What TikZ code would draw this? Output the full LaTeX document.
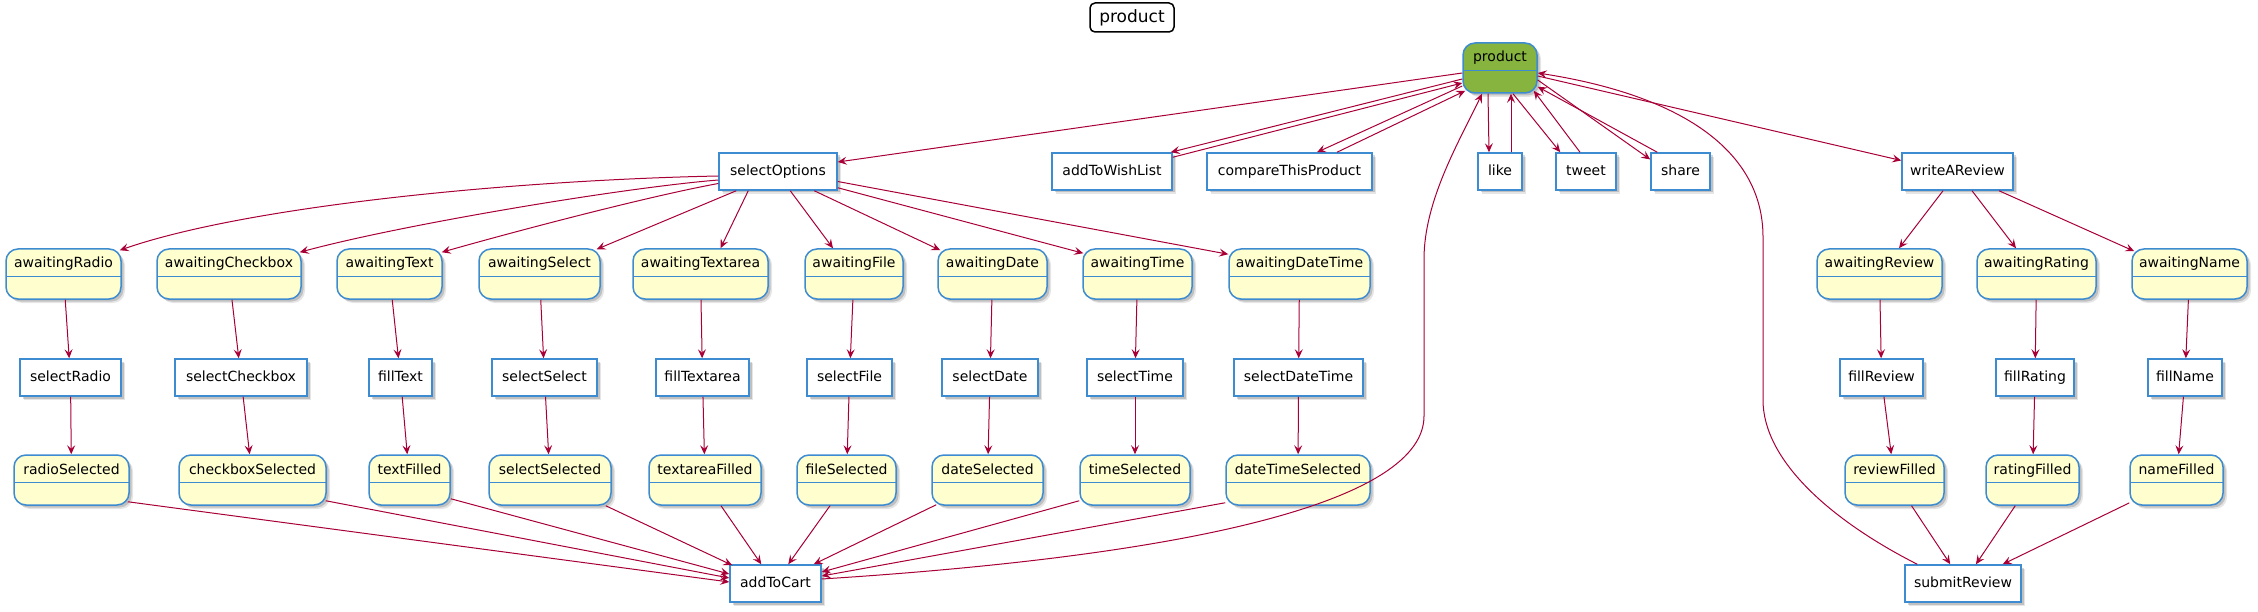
\documentclass[tikz,border=0pt]{standalone}
\usepackage{fontspec}
\setmainfont{DejaVu Sans}
\usetikzlibrary{arrows.meta,shadows,calc}
\definecolor{arrowred}{HTML}{A80036}
\definecolor{borderblue}{HTML}{3D8BD0}
\definecolor{stateyellow}{HTML}{FEFECE}
\definecolor{prodgreen}{HTML}{86B43E}
\newcommand{\nodefnt}{\fontsize{14pt}{16pt}\selectfont}
\newcommand{\titlefnt}{\fontsize{17pt}{19pt}\selectfont}
\tikzset{
  softshadow/.style={
    drop shadow={shadow xshift=2.5pt, shadow yshift=-2.5pt, fill=black, opacity=0.16},
    drop shadow={shadow xshift=4pt, shadow yshift=-4pt, fill=black, opacity=0.10}},
  arr/.style={draw=arrowred, line width=1pt, -{Stealth[length=9pt,width=8pt,inset=3.5pt]}},
  box/.style={draw=borderblue, line width=1.5pt, fill=white, minimum height=37pt,
    inner sep=0pt, text height=10.5pt, text depth=3pt, font=\nodefnt, softshadow},
  statebox/.style={draw=borderblue, line width=1.5pt, fill=stateyellow, rounded corners=12pt,
    minimum height=50pt, inner xsep=0pt, inner ysep=4pt, text height=15pt, text depth=27pt,
    font=\nodefnt, softshadow,
    path picture={\draw[borderblue, line width=1.5pt]
      ($(path picture bounding box.north west)+(0,27.5)$) --
      ($(path picture bounding box.north east)+(0,27.5)$);}},
  titlebox/.style={draw=black, line width=1.5pt, rounded corners=5pt, fill=white,
    inner sep=0pt, font=\titlefnt},
}
\begin{document}
\begin{tikzpicture}[x=1pt, y=-1pt]
\useasboundingbox (0,0) rectangle (2258,612);

% title
\node[titlebox, minimum width=84pt, minimum height=29pt] (title) at (1132,17.5) {product};

% root
\node[statebox, fill=prodgreen, minimum width=74pt] (product) at (1500,68) {product};

% first row of actions
\node[box, minimum width=118pt] (selectOptions) at (778,171.5) {selectOptions};
\node[box, minimum width=120pt] (addToWishList) at (1112,171.5) {addToWishList};
\node[box, minimum width=165pt] (compareThisProduct) at (1289.5,171.5) {compareThisProduct};
\node[box, minimum width=44pt] (like) at (1500,171.5) {like};
\node[box, minimum width=60pt] (tweet) at (1586,171.5) {tweet};
\node[box, minimum width=59pt] (share) at (1680.5,171.5) {share};
\node[box, minimum width=111pt] (writeAReview) at (1957.5,171.5) {writeAReview};

% awaiting states
\node[statebox, minimum width=115pt] (awaitingRadio) at (63.5,274) {awaitingRadio};
\node[statebox, minimum width=144pt] (awaitingCheckbox) at (229,274) {awaitingCheckbox};
\node[statebox, minimum width=105pt] (awaitingText) at (389.5,274) {awaitingText};
\node[statebox, minimum width=121pt] (awaitingSelect) at (539.5,274) {awaitingSelect};
\node[statebox, minimum width=135pt] (awaitingTextarea) at (700.5,274) {awaitingTextarea};
\node[statebox, minimum width=98pt] (awaitingFile) at (854,274) {awaitingFile};
\node[statebox, minimum width=109pt] (awaitingDate) at (992.5,274) {awaitingDate};
\node[statebox, minimum width=109pt] (awaitingTime) at (1137.5,274) {awaitingTime};
\node[statebox, minimum width=141pt] (awaitingDateTime) at (1299.5,274) {awaitingDateTime};
\node[statebox, minimum width=125pt] (awaitingReview) at (1879.5,274) {awaitingReview};
\node[statebox, minimum width=119pt] (awaitingRating) at (2036.5,274) {awaitingRating};
\node[statebox, minimum width=115pt] (awaitingName) at (2189.5,274) {awaitingName};

% input actions
\node[box, minimum width=101pt] (selectRadio) at (70.5,377.5) {selectRadio};
\node[box, minimum width=132pt] (selectCheckbox) at (241,377.5) {selectCheckbox};
\node[box, minimum width=63pt] (fillText) at (400.5,377.5) {fillText};
\node[box, minimum width=105pt] (selectSelect) at (544.5,377.5) {selectSelect};
\node[box, minimum width=93pt] (fillTextarea) at (702.5,377.5) {fillTextarea};
\node[box, minimum width=85pt] (selectFile) at (849.5,377.5) {selectFile};
\node[box, minimum width=96pt] (selectDate) at (990,377.5) {selectDate};
\node[box, minimum width=96pt] (selectTime) at (1135,377.5) {selectTime};
\node[box, minimum width=129pt] (selectDateTime) at (1298.5,377.5) {selectDateTime};
\node[box, minimum width=83pt] (fillReview) at (1881.5,377.5) {fillReview};
\node[box, minimum width=78pt] (fillRating) at (2035,377.5) {fillRating};
\node[box, minimum width=74pt] (fillName) at (2185,377.5) {fillName};

% done states
\node[statebox, minimum width=115pt] (radioSelected) at (71.5,480) {radioSelected};
\node[statebox, minimum width=147pt] (checkboxSelected) at (252.5,480) {checkboxSelected};
\node[statebox, minimum width=81pt] (textFilled) at (409.5,480) {textFilled};
\node[statebox, minimum width=122pt] (selectSelected) at (550,480) {selectSelected};
\node[statebox, minimum width=112pt] (textareaFilled) at (705,480) {textareaFilled};
\node[statebox, minimum width=99pt] (fileSelected) at (846.5,480) {fileSelected};
\node[statebox, minimum width=111pt] (dateSelected) at (987.5,480) {dateSelected};
\node[statebox, minimum width=110pt] (timeSelected) at (1135,480) {timeSelected};
\node[statebox, minimum width=144pt] (dateTimeSelected) at (1298,480) {dateTimeSelected};
\node[statebox, minimum width=99pt] (reviewFilled) at (1894.5,480) {reviewFilled};
\node[statebox, minimum width=93pt] (ratingFilled) at (2032.5,480) {ratingFilled};
\node[statebox, minimum width=93pt] (nameFilled) at (2176.5,480) {nameFilled};

% final actions
\node[box, minimum width=91pt] (addToCart) at (775.5,583.5) {addToCart};
\node[box, minimum width=116pt] (submitReview) at (1963,583.5) {submitReview};

% ---- edges from / to product
\draw[arr] ($(product.west)+(0,5)$) -- ($(selectOptions.east)+(0,-9.5)$);
\draw[arr] ($(product.west)+(0,11)$) -- ($(addToWishList.north east)+(-2,0)$);
\draw[arr] ($(addToWishList.north east)+(0,5)$) -- ($(product.west)+(0,15)$);
\draw[arr] ($(product.west)+(0,18)$) -- ($(compareThisProduct.north)+(27.5,0)$);
\draw[arr] ($(compareThisProduct.north)+(47.5,0)$) -- ($(product.south west)+(3,-3)$);
\draw[arr] ($(product.south)+(-12,0)$) -- ($(like.north)+(-11,0)$);
\draw[arr] ($(like.north)+(11,0)$) -- ($(product.south)+(11,0)$);
\draw[arr] ($(product.south)+(13,0)$) -- ($(tweet.north west)+(5,0)$);
\draw[arr] ($(tweet.north)+(-6,0)$) -- ($(product.south east)+(-4,-3)$);
\draw[arr] ($(product.east)+(0,12)$) -- ($(share.west)+(0,-12)$);
\draw[arr] ($(share.north west)+(7,0)$) -- ($(product.south east)+(0,-7)$);
\draw[arr] ($(product.east)+(0,8)$) -- ($(writeAReview.west)+(0,-11)$);

% ---- selectOptions to awaiting states
\draw[arr] ($(selectOptions.west)+(0,4.5)$) .. controls (520,180) and (250,205) .. ($(awaitingRadio.north east)+(-2,2)$);
\draw[arr] ($(selectOptions.west)+(0,8.5)$) .. controls (620,188) and (400,225) .. ($(awaitingCheckbox.north east)+(-2,4)$);
\draw[arr] ($(selectOptions.west)+(0,12)$) .. controls (650,196) and (520,230) .. ($(awaitingText.north east)+(-1,4)$);
\draw[arr] ($(selectOptions.south west)+(18,0)$) -- ($(awaitingSelect.north east)+(-4,1)$);
\draw[arr] ($(selectOptions.south west)+(30,0)$) -- ($(awaitingTextarea.north)+(20,0)$);
\draw[arr] ($(selectOptions.south west)+(72,0)$) -- ($(awaitingFile.north)+(-21,0)$);
\draw[arr] ($(selectOptions.south west)+(96,0)$) -- ($(awaitingDate.north west)+(3,2)$);
\draw[arr] ($(selectOptions.south east)+(0,-3)$) -- ($(awaitingTime.north west)+(1,5)$);
\draw[arr] ($(selectOptions.east)+(0,10)$) -- ($(awaitingDateTime.north west)+(0,6)$);

% ---- chains
\draw[arr] (awaitingRadio) -- (selectRadio);
\draw[arr] (selectRadio) -- (radioSelected);
\draw[arr] (awaitingCheckbox) -- (selectCheckbox);
\draw[arr] (selectCheckbox) -- (checkboxSelected);
\draw[arr] (awaitingText) -- (fillText);
\draw[arr] (fillText) -- (textFilled);
\draw[arr] (awaitingSelect) -- (selectSelect);
\draw[arr] (selectSelect) -- (selectSelected);
\draw[arr] (awaitingTextarea) -- (fillTextarea);
\draw[arr] (fillTextarea) -- (textareaFilled);
\draw[arr] (awaitingFile) -- (selectFile);
\draw[arr] (selectFile) -- (fileSelected);
\draw[arr] (awaitingDate) -- (selectDate);
\draw[arr] (selectDate) -- (dateSelected);
\draw[arr] (awaitingTime) -- (selectTime);
\draw[arr] (selectTime) -- (timeSelected);
\draw[arr] (awaitingDateTime) -- (selectDateTime);
\draw[arr] (selectDateTime) -- (dateTimeSelected);

% ---- to addToCart
\draw[arr] ($(radioSelected.south east)+(-2,-4)$) -- ($(addToCart.west)+(0,-1.5)$);
\draw[arr] ($(checkboxSelected.south east)+(-1,-5)$) -- ($(addToCart.west)+(0,-5.5)$);
\draw[arr] ($(textFilled.south east)+(0,-7)$) -- ($(addToCart.west)+(0,-9.5)$);
\draw[arr] ($(selectSelected.south east)+(-6,0)$) -- ($(addToCart.north west)+(3,1)$);
\draw[arr] ($(textareaFilled.south)+(16,0)$) -- ($(addToCart.north west)+(32,0)$);
\draw[arr] ($(fileSelected.south)+(-16.5,0)$) -- ($(addToCart.north west)+(59,0)$);
\draw[arr] ($(dateSelected.south west)+(5,-1)$) -- ($(addToCart.north east)+(-8,0)$);
\draw[arr] ($(timeSelected.south west)+(0,-5)$) -- ($(addToCart.east)+(0,-11.5)$);
\draw[arr] ($(dateTimeSelected.south west)+(0,-3)$) -- ($(addToCart.east)+(0,-7.5)$);

% addToCart back to product
\draw[arr] ($(addToCart.east)+(0,-4.5)$) .. controls (1200,555) and (1424,500) .. (1424,416)
  -- (1424,259) .. controls (1424,200) and (1460,140) .. ($(product.south)+(-18,0)$);

% ---- review branch
\draw[arr] ($(writeAReview.south)+(-14.5,0)$) -- ($(awaitingReview.north)+(19.5,0)$);
\draw[arr] ($(writeAReview.south)+(14.5,0)$) -- ($(awaitingRating.north)+(-20.5,0)$);
\draw[arr] ($(writeAReview.south)+(41.5,0)$) -- ($(awaitingName.north west)+(3,3)$);
\draw[arr] (awaitingReview) -- (fillReview);
\draw[arr] (fillReview) -- (reviewFilled);
\draw[arr] (awaitingRating) -- (fillRating);
\draw[arr] (fillRating) -- (ratingFilled);
\draw[arr] (awaitingName) -- (fillName);
\draw[arr] (fillName) -- (nameFilled);
\draw[arr] (reviewFilled) -- (submitReview);
\draw[arr] (ratingFilled) -- (submitReview);
\draw[arr] (nameFilled) -- (submitReview);

% submitReview back to product
\draw[arr] ($(submitReview.north west)+(13,0)$) .. controls (1830,520) and (1763,460) .. (1763,400)
  -- (1763,237) .. controls (1763,150) and (1680,95) .. ($(product.east)+(0,5)$);
\end{tikzpicture}
\end{document}
